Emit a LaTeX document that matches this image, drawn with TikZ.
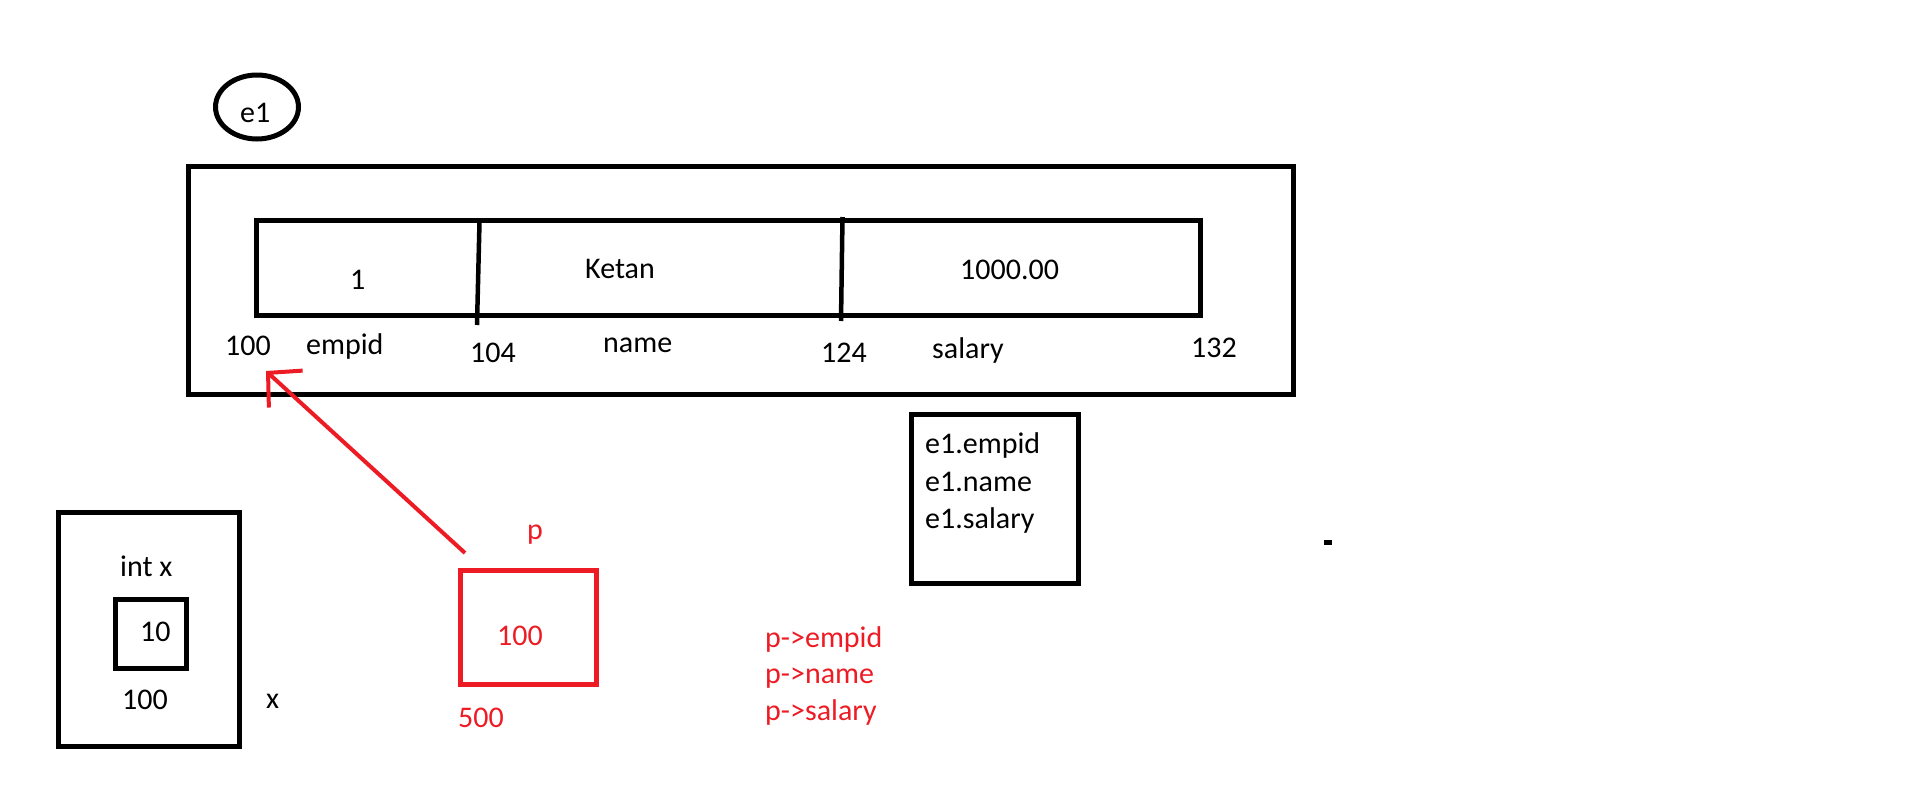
\documentclass[tikz,border=0pt]{standalone}
\usepackage{fontspec}
\setmainfont{Carlito}
\usepackage{tikz}
\usetikzlibrary{shapes.geometric, arrows.meta}

\definecolor{pred}{RGB}{237,28,36}

\begin{document}
\begin{tikzpicture}[x=1pt, y=-1pt, font=\fontsize{30}{36}\selectfont]

    \useasboundingbox (0,0) rectangle (1914,809);

    \tikzstyle{box node} = [rectangle, draw, line width=5pt, inner sep=0pt];
    \tikzstyle{red box node} = [rectangle, draw=pred, line width=5pt, inner sep=0pt];
    \tikzstyle{label node} = [anchor=base west, inner sep=0pt];
    \tikzstyle{red label node} = [anchor=base west, inner sep=0pt, text=pred];

    % Structure e1
    \begin{scope}
        \node[ellipse, draw, line width=5pt, 
              minimum width=83pt, minimum height=64pt] (e1) at (257,107) {};
        \node[label node] (e1 name) at (240,122) {e1};

        \node[box node, minimum width=1105pt, minimum height=228pt] (outer) at (741,280.5) {};
        \node[box node, minimum width=944pt, minimum height=95pt] (record) at (728.5,268) {};

        \draw [line width=4.5pt] (479.5,222) -- (477,325);
        \draw [line width=4.5pt] (842.5,217) -- (841,321);

        \node[label node] (val empid) at (350,289) {1};
        \node[label node] (val name) at (585,278) {Ketan};
        \node[label node] (val salary) at (960,279) {1000.00};

        \node[label node] (a100) at (225,355) {100};
        \node[label node] (f empid) at (306,354) {empid};
        \node[label node] (a104) at (470,362) {104};
        \node[label node] (f name) at (603,352) {name};
        \node[label node] (a124) at (821,362) {124};
        \node[label node] (f salary) at (932,358) {salary};
        \node[label node] (a132) at (1191,357) {132};

        % member access
        \node[box node, minimum width=167pt, minimum height=169pt] (access) at (995,499) {};
        \node[label node] (acc empid) at (925,453) {e1.empid};
        \node[label node] (acc name) at (925,491) {e1.name};
        \node[label node] (acc salary) at (925,528) {e1.salary};

        \fill (1324,539.5) rectangle (1332,544.5);
    \end{scope}

    % Variable x
    \begin{scope}
        \node[box node, minimum width=181pt, minimum height=234pt] (xbox) at (149,629.5) {};
        \node[box node, minimum width=71pt, minimum height=69pt] (xval) at (151,634) {};
        \node[label node] (x type) at (120,576) {int x};
        \node[label node] (x ten) at (140,641) {10};
        \node[label node] (x addr) at (122,709) {100};
        \node[label node] (x name) at (266,708) {x};
    \end{scope}

    % Pointer p
    \begin{scope}
        \node[red box node, minimum width=136pt, minimum height=114pt] (pbox) at (528.5,627.5) {};
        \node[red label node] (p name) at (527,539) {p};
        \node[red label node] (p val) at (497,645) {100};
        \node[red label node] (p addr) at (458,727) {500};

        \node[red label node] (p empid) at (765,647) {p->empid};
        \node[red label node] (p pname) at (765,683) {p->name};
        \node[red label node] (p salary) at (765,720) {p->salary};

        \coordinate (ptr start) at (465,553);
        \coordinate (ptr tip) at (266,371);
        \draw [-{Straight Barb[length=24pt, width=50pt]}, 
               pred, line width=4pt] (ptr start) 
            to (ptr tip);
    \end{scope}

\end{tikzpicture}
\end{document}
